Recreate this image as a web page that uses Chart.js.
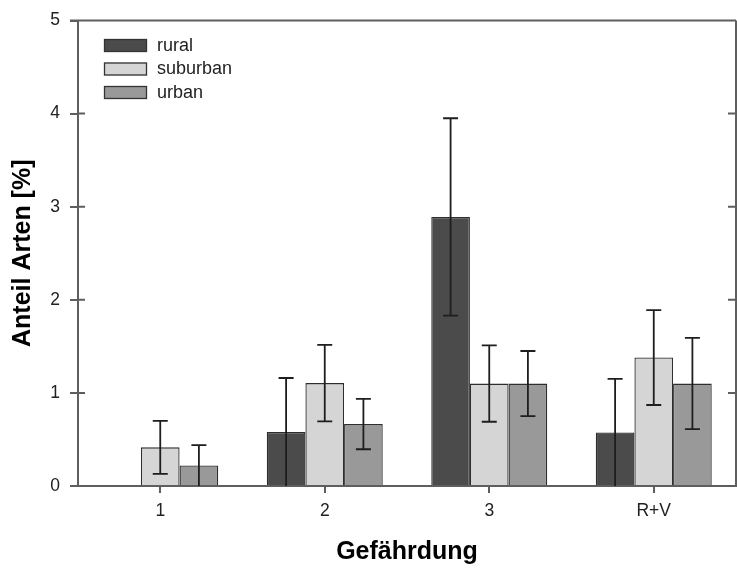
<!DOCTYPE html>
<html>
<head>
<meta charset="utf-8">
<script src="https://cdn.jsdelivr.net/npm/chart.js@4.4.0/dist/chart.umd.min.js"></script>
<style>
  html, body { margin: 0; padding: 0; background: #fff; }
  #wrap { width: 737px; height: 570px; }
</style>
</head>
<body>
<div id="wrap"><canvas id="chart" width="737" height="570"></canvas></div>
<script>
const categories = ['1', '2', '3', 'R+V'];
const yTicks = [0, 1, 2, 3, 4, 5];

const rural = [0, 0.58, 2.89, 0.575];
const suburban = [0.415, 1.105, 1.10, 1.38];
const urban = [0.22, 0.665, 1.10, 1.10];

// +/- error (same up and down)
const ruralErr = [0, 0.58, 1.06, 0.575];
const suburbanErr = [0.285, 0.41, 0.41, 0.51];
const urbanErr = [0.22, 0.27, 0.35, 0.49];

const errors = [ruralErr, suburbanErr, urbanErr];

const AXIS = '#5e5e5e';
const FONT = "'Liberation Sans', Arial, sans-serif";

// frame, inner ticks, error bars and legend
const extras = {
    id: 'extras',
    afterDatasetsDraw(chart) {
        const ctx = chart.ctx;
        const y = chart.scales.y;
        ctx.save();
        ctx.strokeStyle = '#1e1e1e';
        ctx.lineWidth = 1.8;
        chart.data.datasets.forEach((ds, i) => {
            const meta = chart.getDatasetMeta(i);
            meta.data.forEach((bar, j) => {
                const e = errors[i][j];
                if (!e) return;
                const v = ds.data[j];
                const top = y.getPixelForValue(v + e);
                const bot = y.getPixelForValue(Math.max(0, v - e));
                const cx = bar.x;
                ctx.beginPath();
                ctx.moveTo(cx, top); ctx.lineTo(cx, bot);
                ctx.moveTo(cx - 7.5, top); ctx.lineTo(cx + 7.5, top);
                if (v - e > 0.001) { ctx.moveTo(cx - 7.5, bot); ctx.lineTo(cx + 7.5, bot); }
                ctx.stroke();
            });
        });
        ctx.restore();
    },
    afterDraw(chart) {
        const ctx = chart.ctx;
        const a = chart.chartArea;
        const y = chart.scales.y;
        ctx.save();
        ctx.strokeStyle = AXIS;
        ctx.lineWidth = 2;
        ctx.beginPath();
        ctx.moveTo(a.left - 8, a.top); ctx.lineTo(a.right, a.top);
        ctx.moveTo(a.right, a.top); ctx.lineTo(a.right, a.bottom);
        yTicks.forEach(t => {
            const py = y.getPixelForValue(t);
            ctx.moveTo(a.left, py); ctx.lineTo(a.left + 7, py);
            ctx.moveTo(a.right - 8, py); ctx.lineTo(a.right, py);
        });
        ctx.stroke();

        // legend
        ctx.font = '18px ' + FONT;
        ctx.textBaseline = 'middle';
        chart.data.datasets.forEach((ds, i) => {
            const top = 39 + i * 23.5;
            ctx.fillStyle = ds.backgroundColor;
            ctx.fillRect(104, top, 43, 13);
            ctx.strokeStyle = '#333';
            ctx.lineWidth = 1.3;
            ctx.strokeRect(104.5, top + 0.5, 42, 12);
            ctx.fillStyle = '#222';
            ctx.fillText(ds.label, 157, top + 7);
        });
        ctx.restore();
    }
};

new Chart(document.getElementById('chart'), {
    type: 'bar',
    data: {
        labels: categories,
        datasets: [
            { label: 'rural', data: rural, backgroundColor: '#4b4b4b' },
            { label: 'suburban', data: suburban, backgroundColor: '#d5d5d5' },
            { label: 'urban', data: urban, backgroundColor: '#999999' }
        ].map(d => Object.assign(d, { borderColor: '#2e2e2e', borderWidth: 1.3 }))
    },
    options: {
        responsive: false,
        animation: false,
        devicePixelRatio: 1,
        categoryPercentage: 0.705,
        barPercentage: 1,
        layout: { padding: { top: 14, right: 1, left: 0, bottom: 0 } },
        plugins: { legend: { display: false }, tooltip: { enabled: false } },
        scales: {
            x: {
                afterFit(s) { s.height = 84; },
                grid: { display: true, offset: false, drawOnChartArea: false, tickLength: 7, color: AXIS, lineWidth: 2 },
                border: { color: AXIS, width: 2 },
                ticks: { color: '#222', font: { family: FONT, size: 17.5 }, padding: 8 },
                title: { display: true, text: 'Gefährdung', color: '#000', font: { family: FONT, size: 25, weight: 'bold' }, padding: { bottom: 3, top: 0 } }
            },
            y: {
                min: 0, max: 5,
                afterFit(s) { s.width = 78; },
                afterBuildTicks(s) { s.ticks = yTicks.map(v => ({ value: v })); },
                grid: { display: true, drawOnChartArea: false, tickLength: 8, color: AXIS, lineWidth: 2 },
                border: { color: AXIS, width: 2 },
                ticks: { color: '#222', font: { family: FONT, size: 17.5 }, padding: 10 },
                title: { display: true, text: 'Anteil Arten [%]', color: '#000', font: { family: FONT, size: 25, weight: 'bold' }, padding: { top: 8, bottom: 0 } }
            }
        }
    },
    plugins: [extras]
});
</script>
</body>
</html>
